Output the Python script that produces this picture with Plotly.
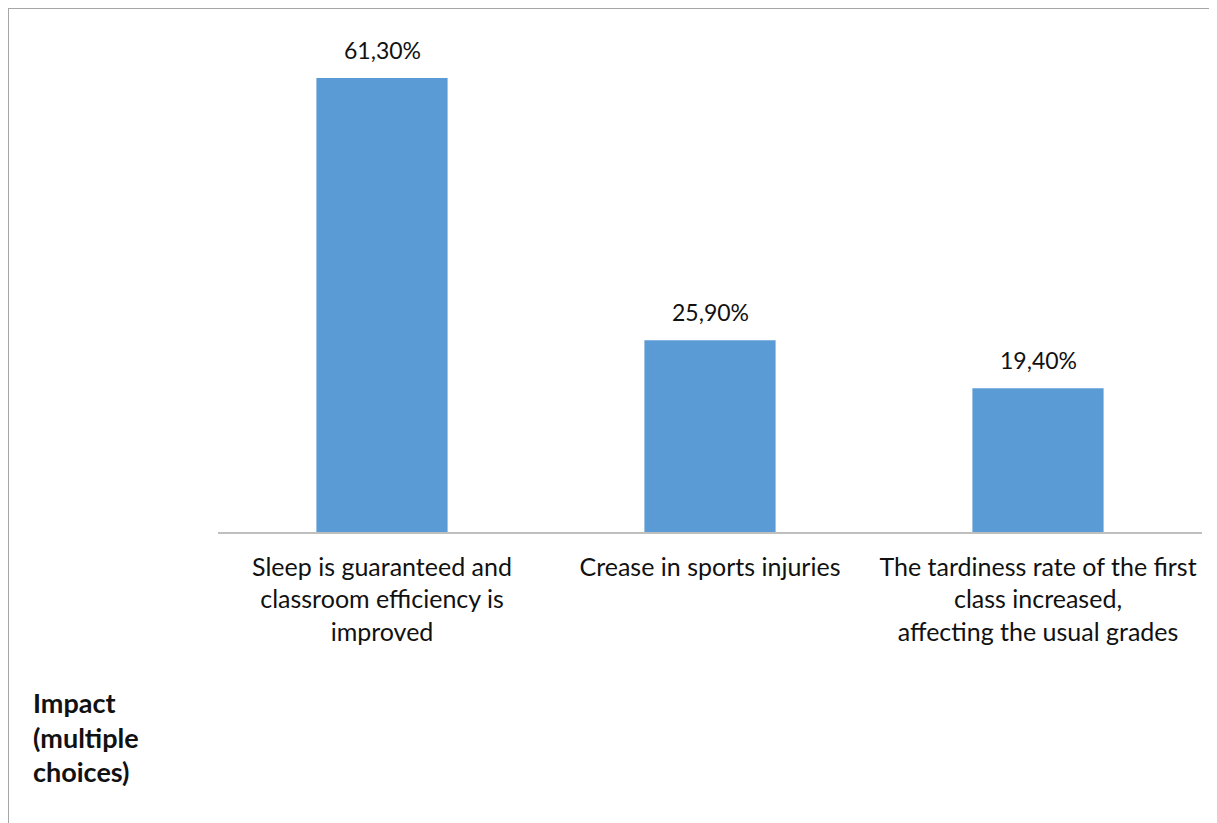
import plotly.graph_objects as go

categories = [
    "Sleep is guaranteed and<br>classroom efficiency is<br>improved",
    "Crease in sports injuries<br> <br> ",
    "The tardiness rate of the first<br>class increased,<br>affecting the usual grades",
]
values = [61.3, 25.9, 19.4]
value_labels = ["61,30%", "25,90%", "19,40%"]
title_lines = ["Impact", "(multiple", "choices)"]

# Page body has an 8px margin: work in reference coordinates and shift.
OFF = 8
W, H = 1217 - OFF, 823 - OFF
plot_left, plot_right, plot_top, plot_bottom = 218 - OFF, 1202 - OFF, 10 - OFF, 532 - OFF
ml, mr, mt, mb = plot_left, W - plot_right, plot_top, H - plot_bottom
pw = W - ml - mr
ph = H - mt - mb

def px(x):
    return (x - OFF - ml) / pw

def py(y):
    return (H - mb - (y - OFF)) / ph

FONT = "Lato"
TXT = "#111111"

fig = go.Figure()
fig.add_trace(go.Bar(
    x=categories,
    y=values,
    marker=dict(color="#5B9BD5", line=dict(width=0)),
    width=0.4,
    hoverinfo="x+y",
))

for c, v, lab in zip(categories, values, value_labels):
    fig.add_annotation(x=c, y=v, xref="x", yref="y", text=lab, showarrow=False,
                       yanchor="bottom", yshift=12,
                       font=dict(family=FONT, size=23, color=TXT))

border_color = "#A6A6A6"
fig.add_shape(type="path", xref="paper", yref="paper",
              path=f"M {px(8)},{py(830)} L {px(8)},{py(8)} L {px(1210)},{py(8)} L {px(1210)},{py(830)}",
              line=dict(color=border_color, width=2))

for i, line in enumerate(title_lines):
    fig.add_annotation(
        xref="paper", yref="paper",
        x=px(31), y=py(703 + 34 * i), xanchor="left", yanchor="middle",
        text=f"<b>{line}</b>",
        showarrow=False, align="left",
        font=dict(family=FONT, size=27, color=TXT),
    )

fig.update_layout(
    width=W, height=H,
    margin=dict(l=ml, r=mr, t=mt, b=mb),
    paper_bgcolor="white", plot_bgcolor="white",
    showlegend=False,
    bargap=0.6,
    font=dict(family=FONT, size=25, color=TXT),
)
fig.update_xaxes(showline=True, linecolor="#BFBFBF", linewidth=1.5,
                 ticks="", showgrid=False, ticklabelstandoff=12,
                 tickfont=dict(family=FONT, size=25, color=TXT))
fig.update_yaxes(range=[0, 70.5], visible=False, showgrid=False, zeroline=False)

fig.write_html("out.html")
